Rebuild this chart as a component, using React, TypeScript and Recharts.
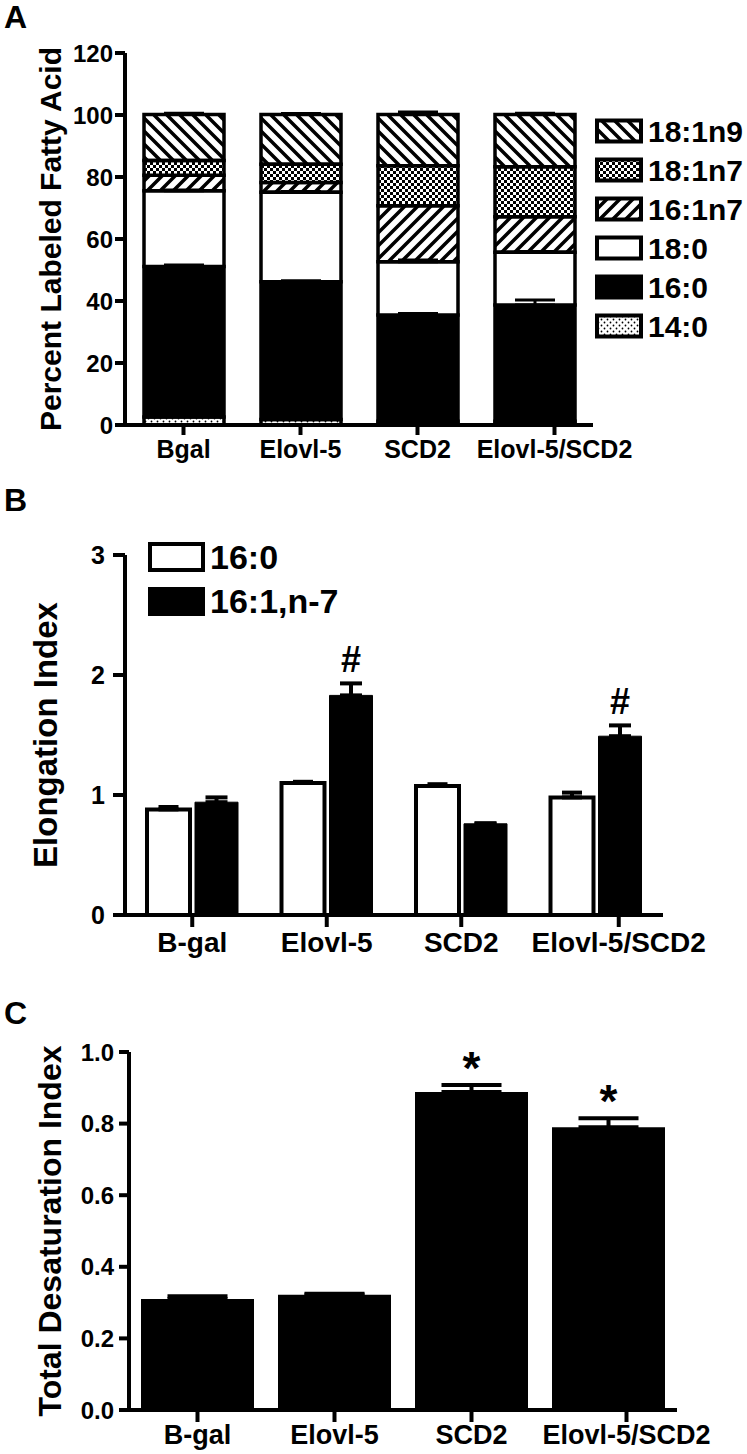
import React from 'react'
import { BarChart, Bar, XAxis, YAxis, ErrorBar, LabelList, Label } from 'recharts'

const FONT = '"Liberation Sans", Arial, Helvetica, sans-serif'

// Panel A - percent labeled fatty acid (stacked, bottom to top)
const groupsA = ['Bgal', 'Elovl-5', 'SCD2', 'Elovl-5/SCD2']
const fa140 = [2.6, 1.8, 1.2, 1.2]
const fa160 = [48.5, 44.4, 34.3, 37.5]
const fa180 = [24.5, 28.9, 17.2, 17.0]
const fa161n7 = [5.0, 3.1, 18.0, 11.5]
const fa181n7 = [4.7, 5.9, 12.9, 16.1]
const fa181n9 = [14.9, 16.1, 16.6, 16.9]
const err160 = [0.5, 0.3, 0.5, 1.6]
const err180 = [0.2, 0.2, 0.5, 0.3]
const errTop = [0.4, 0.3, 0.8, 0.4]
const ticksA = [0, 20, 40, 60, 80, 100, 120]

// Panel B - elongation index
const groupsB = ['B-gal', 'Elovl-5', 'SCD2', 'Elovl-5/SCD2']
const elong160 = [0.88, 1.1, 1.075, 0.98]
const elong160Err = [0.02, 0.01, 0.015, 0.04]
const elong161 = [0.94, 1.83, 0.76, 1.49]
const elong161Err = [0.04, 0.1, 0.005, 0.09]
const sigB = ['', '#', '', '#']
const ticksB = [0, 1, 2, 3]

// Panel C - total desaturation index
const groupsC = ['B-gal', 'Elovl-5', 'SCD2', 'Elovl-5/SCD2']
const desat = [0.31, 0.322, 0.888, 0.79]
const desatErr = [0.008, 0.003, 0.02, 0.025]
const sigC = ['', '', '*', '*']
const ticksC = [0, 0.2, 0.4, 0.6, 0.8, 1.0]

const dataA = groupsA.map((name, i) => ({
  name,
  f140: fa140[i],
  f160: fa160[i],
  f180: fa180[i],
  f161n7: fa161n7[i],
  f181n7: fa181n7[i],
  f181n9: fa181n9[i],
  e160: [0, err160[i]],
  e180: [0, err180[i]],
  eTop: [0, errTop[i]],
}))

const dataB = groupsB.map((name, i) => ({
  name,
  p160: elong160[i],
  p161: elong161[i],
  e160: [0, elong160Err[i]],
  e161: [0, elong161Err[i]],
  sig: sigB[i],
}))

const dataC = groupsC.map((name, i) => ({
  name,
  v: desat[i],
  e: [0, desatErr[i]],
  sig: sigC[i],
}))

const legendA = [
  { label: '18:1n9', fill: 'url(#pat-back)' },
  { label: '18:1n7', fill: 'url(#pat-check)' },
  { label: '16:1n7', fill: 'url(#pat-fwd)' },
  { label: '18:0', fill: '#fff' },
  { label: '16:0', fill: '#000' },
  { label: '14:0', fill: 'url(#pat-dots)' },
]

const axisStroke = { stroke: '#000', strokeWidth: 4 }

function CategoryTick(props: any) {
  const { x, y, payload, index, fontSize, lastShift, tickLen, gap, count } = props
  const cx = x + (index === count - 1 ? lastShift : 0)
  return (
    <g>
      <line x1={cx} x2={cx} y1={y} y2={y + tickLen} stroke="#000" strokeWidth={4} />
      <text
        x={cx}
        y={y + tickLen + gap}
        dy="0.72em"
        textAnchor="middle"
        fontSize={fontSize}
        fontWeight={700}
        fontFamily={FONT}
        fill="#000"
      >
        {payload.value}
      </text>
    </g>
  )
}

function ValueTick(props: any) {
  const { x, y, payload, fontSize, digits } = props
  const v = digits != null ? Number(payload.value).toFixed(digits) : payload.value
  return (
    <text
      x={x}
      y={y}
      dy="0.36em"
      textAnchor="end"
      fontSize={fontSize}
      fontWeight={700}
      fontFamily={FONT}
      fill="#000"
    >
      {v}
    </text>
  )
}

function YTitle(props: any) {
  const { viewBox, cx, text, fontSize } = props
  const cy = viewBox.y + viewBox.height / 2
  return (
    <text
      x={cx}
      y={cy}
      transform={`rotate(-90, ${cx}, ${cy})`}
      textAnchor="middle"
      dominantBaseline="central"
      fontSize={fontSize}
      fontWeight={700}
      fontFamily={FONT}
      fill="#000"
    >
      {text}
    </text>
  )
}

// significance mark placed above the error bar cap
function SigMark(props: any) {
  const { x, y, width, height, index, vals, errs, size, gap } = props
  const mark = props.value
  if (!mark) return null
  const perUnit = Math.abs(height) / vals[index]
  const capY = y - errs[index] * perUnit
  return (
    <text
      x={x + width / 2}
      y={capY - gap}
      textAnchor="middle"
      style={{ fontSize: size, fontWeight: 700, fontFamily: FONT }}
      fill="#000"
    >
      {mark}
    </text>
  )
}

function PanelLetter({ text, top }: { text: string; top: number }) {
  return (
    <div
      style={{
        position: 'absolute',
        left: 4,
        top,
        fontFamily: FONT,
        fontWeight: 700,
        fontSize: 32,
        lineHeight: '32px',
      }}
    >
      {text}
    </div>
  )
}

export default function App() {
  return (
    <div style={{ position: 'absolute', left: 0, top: 0, width: 747, height: 1454, background: '#fff' }}>
      <PanelLetter text="A" top={1} />
      <PanelLetter text="B" top={484} />
      <PanelLetter text="C" top={997} />

      {/* Panel A */}
      <div style={{ position: 'absolute', left: 0, top: 0 }}>
        <BarChart width={747} height={480} data={dataA} margin={{ top: 53, right: 154, bottom: 15, left: 0 }}>
          <defs>
            <pattern id="pat-back" patternUnits="userSpaceOnUse" width="13" height="13">
              <path d="M-3,-3 L16,16 M-9.5,3.5 L3.5,16.5 M3.5,-9.5 L16.5,3.5" stroke="#000" strokeWidth="3.5" />
            </pattern>
            <pattern id="pat-fwd" patternUnits="userSpaceOnUse" width="13" height="13">
              <path d="M-3,16 L16,-3 M-9.5,9.5 L3.5,-3.5 M3.5,22.5 L16.5,9.5" stroke="#000" strokeWidth="3.5" />
            </pattern>
            <pattern id="pat-check" patternUnits="userSpaceOnUse" width="6" height="6">
              <rect width="6" height="6" fill="#fff" />
              <rect x="0" y="0" width="3" height="3" fill="#000" />
              <rect x="3" y="3" width="3" height="3" fill="#000" />
            </pattern>
            <pattern id="pat-dots" patternUnits="userSpaceOnUse" width="6" height="6">
              <rect width="6" height="6" fill="#fff" />
              <circle cx="1.5" cy="1.5" r="0.9" fill="#000" />
              <circle cx="4.5" cy="4.5" r="0.9" fill="#000" />
            </pattern>
          </defs>
          <XAxis
            dataKey="name"
            height={40}
            axisLine={axisStroke}
            tickLine={false}
            tickSize={0}
            tickMargin={0}
            interval={0}
            tick={(p: any) => (
              <CategoryTick {...p} fontSize={25} lastShift={20} tickLen={10} gap={5} count={groupsA.length} />
            )}
          />
          <YAxis
            width={125}
            domain={[0, 120]}
            ticks={ticksA}
            interval={0}
            axisLine={axisStroke}
            tickLine={axisStroke}
            tickSize={10}
            tickMargin={2}
            tick={(p: any) => <ValueTick {...p} fontSize={24} />}
          >
            <Label content={(p: any) => <YTitle {...p} cx={50} text="Percent Labeled Fatty Acid" fontSize={30} />} />
          </YAxis>
          <Bar dataKey="f140" stackId="a" barSize={80} fill="url(#pat-dots)" stroke="#000" strokeWidth={3.5} isAnimationActive={false} />
          <Bar dataKey="f160" stackId="a" barSize={80} fill="#000" stroke="#000" strokeWidth={3.5} isAnimationActive={false}>
            <ErrorBar dataKey="e160" direction="y" width={20} stroke="#000" strokeWidth={3} />
          </Bar>
          <Bar dataKey="f180" stackId="a" barSize={80} fill="#fff" stroke="#000" strokeWidth={3.5} isAnimationActive={false}>
            <ErrorBar dataKey="e180" direction="y" width={20} stroke="#000" strokeWidth={3} />
          </Bar>
          <Bar dataKey="f161n7" stackId="a" barSize={80} fill="url(#pat-fwd)" stroke="#000" strokeWidth={3.5} isAnimationActive={false} />
          <Bar dataKey="f181n7" stackId="a" barSize={80} fill="url(#pat-check)" stroke="#000" strokeWidth={3.5} isAnimationActive={false} />
          <Bar dataKey="f181n9" stackId="a" barSize={80} fill="url(#pat-back)" stroke="#000" strokeWidth={3.5} isAnimationActive={false}>
            <ErrorBar dataKey="eTop" direction="y" width={20} stroke="#000" strokeWidth={3} />
          </Bar>
        </BarChart>
      </div>

      {/* Legend A */}
      <svg style={{ position: 'absolute', left: 0, top: 0 }} width={747} height={360}>
        {legendA.map((item, i) => {
          const c = 131 + i * 39
          return (
            <g key={item.label}>
              <rect x={597} y={c - 10.5} width={44} height={21} fill={item.fill} stroke="#000" strokeWidth={4} />
              <text x={648} y={c + 11} fontSize={30} fontWeight={700} fontFamily={FONT} fill="#000">
                {item.label}
              </text>
            </g>
          )
        })}
      </svg>

      {/* Panel B */}
      <div style={{ position: 'absolute', left: 0, top: 480 }}>
        <BarChart width={747} height={480} data={dataB} margin={{ top: 75, right: 84, bottom: 5, left: 0 }} barGap={5}>
          <XAxis
            dataKey="name"
            height={40}
            axisLine={axisStroke}
            tickLine={false}
            tickSize={0}
            tickMargin={0}
            interval={0}
            tick={(p: any) => (
              <CategoryTick {...p} fontSize={28} lastShift={23} tickLen={12} gap={5} count={groupsB.length} />
            )}
          />
          <YAxis
            width={125}
            domain={[0, 3]}
            ticks={ticksB}
            interval={0}
            axisLine={axisStroke}
            tickLine={axisStroke}
            tickSize={12}
            tickMargin={8}
            tick={(p: any) => <ValueTick {...p} fontSize={25} />}
          >
            <Label content={(p: any) => <YTitle {...p} cx={45} text="Elongation Index" fontSize={33} />} />
          </YAxis>
          <Bar dataKey="p160" barSize={43} fill="#fff" stroke="#000" strokeWidth={4} isAnimationActive={false}>
            <ErrorBar dataKey="e160" direction="y" width={10} stroke="#000" strokeWidth={4} />
          </Bar>
          <Bar dataKey="p161" barSize={43} fill="#000" stroke="#000" strokeWidth={1} isAnimationActive={false}>
            <ErrorBar dataKey="e161" direction="y" width={11} stroke="#000" strokeWidth={4} />
            <LabelList
              dataKey="sig"
              content={(p: any) => <SigMark {...p} vals={elong161} errs={elong161Err} size={36} gap={11} />}
            />
          </Bar>
        </BarChart>
      </div>

      {/* Legend B */}
      <svg style={{ position: 'absolute', left: 0, top: 0 }} width={747} height={640}>
        <rect x={150} y={544} width={53} height={26} fill="#fff" stroke="#000" strokeWidth={4} />
        <text x={210} y={569} fontSize={34} fontWeight={700} fontFamily={FONT} fill="#000">
          16:0
        </text>
        <rect x={148} y={587} width={57} height={29} fill="#000" />
        <text x={210} y={613} fontSize={34} fontWeight={700} fontFamily={FONT} fill="#000">
          16:1,n-7
        </text>
      </svg>

      {/* Panel C */}
      <div style={{ position: 'absolute', left: 0, top: 960 }}>
        <BarChart width={747} height={494} data={dataC} margin={{ top: 92, right: 70, bottom: 4, left: 0 }}>
          <XAxis
            dataKey="name"
            height={40}
            axisLine={axisStroke}
            tickLine={false}
            tickSize={0}
            tickMargin={0}
            interval={0}
            tick={(p: any) => (
              <CategoryTick {...p} fontSize={27} lastShift={18} tickLen={12} gap={3} count={groupsC.length} />
            )}
          />
          <YAxis
            width={129}
            domain={[0, 1]}
            ticks={ticksC}
            interval={0}
            axisLine={axisStroke}
            tickLine={axisStroke}
            tickSize={10}
            tickMargin={5}
            tick={(p: any) => <ValueTick {...p} fontSize={24} digits={1} />}
          >
            <Label content={(p: any) => <YTitle {...p} cx={50} text="Total Desaturation Index" fontSize={32} />} />
          </YAxis>
          <Bar dataKey="v" barSize={113} fill="#000" isAnimationActive={false}>
            <ErrorBar dataKey="e" direction="y" width={30} stroke="#000" strokeWidth={4} />
            <LabelList
              dataKey="sig"
              content={(p: any) => <SigMark {...p} vals={desat} errs={desatErr} size={46} gap={1} />}
            />
          </Bar>
        </BarChart>
      </div>
    </div>
  )
}
